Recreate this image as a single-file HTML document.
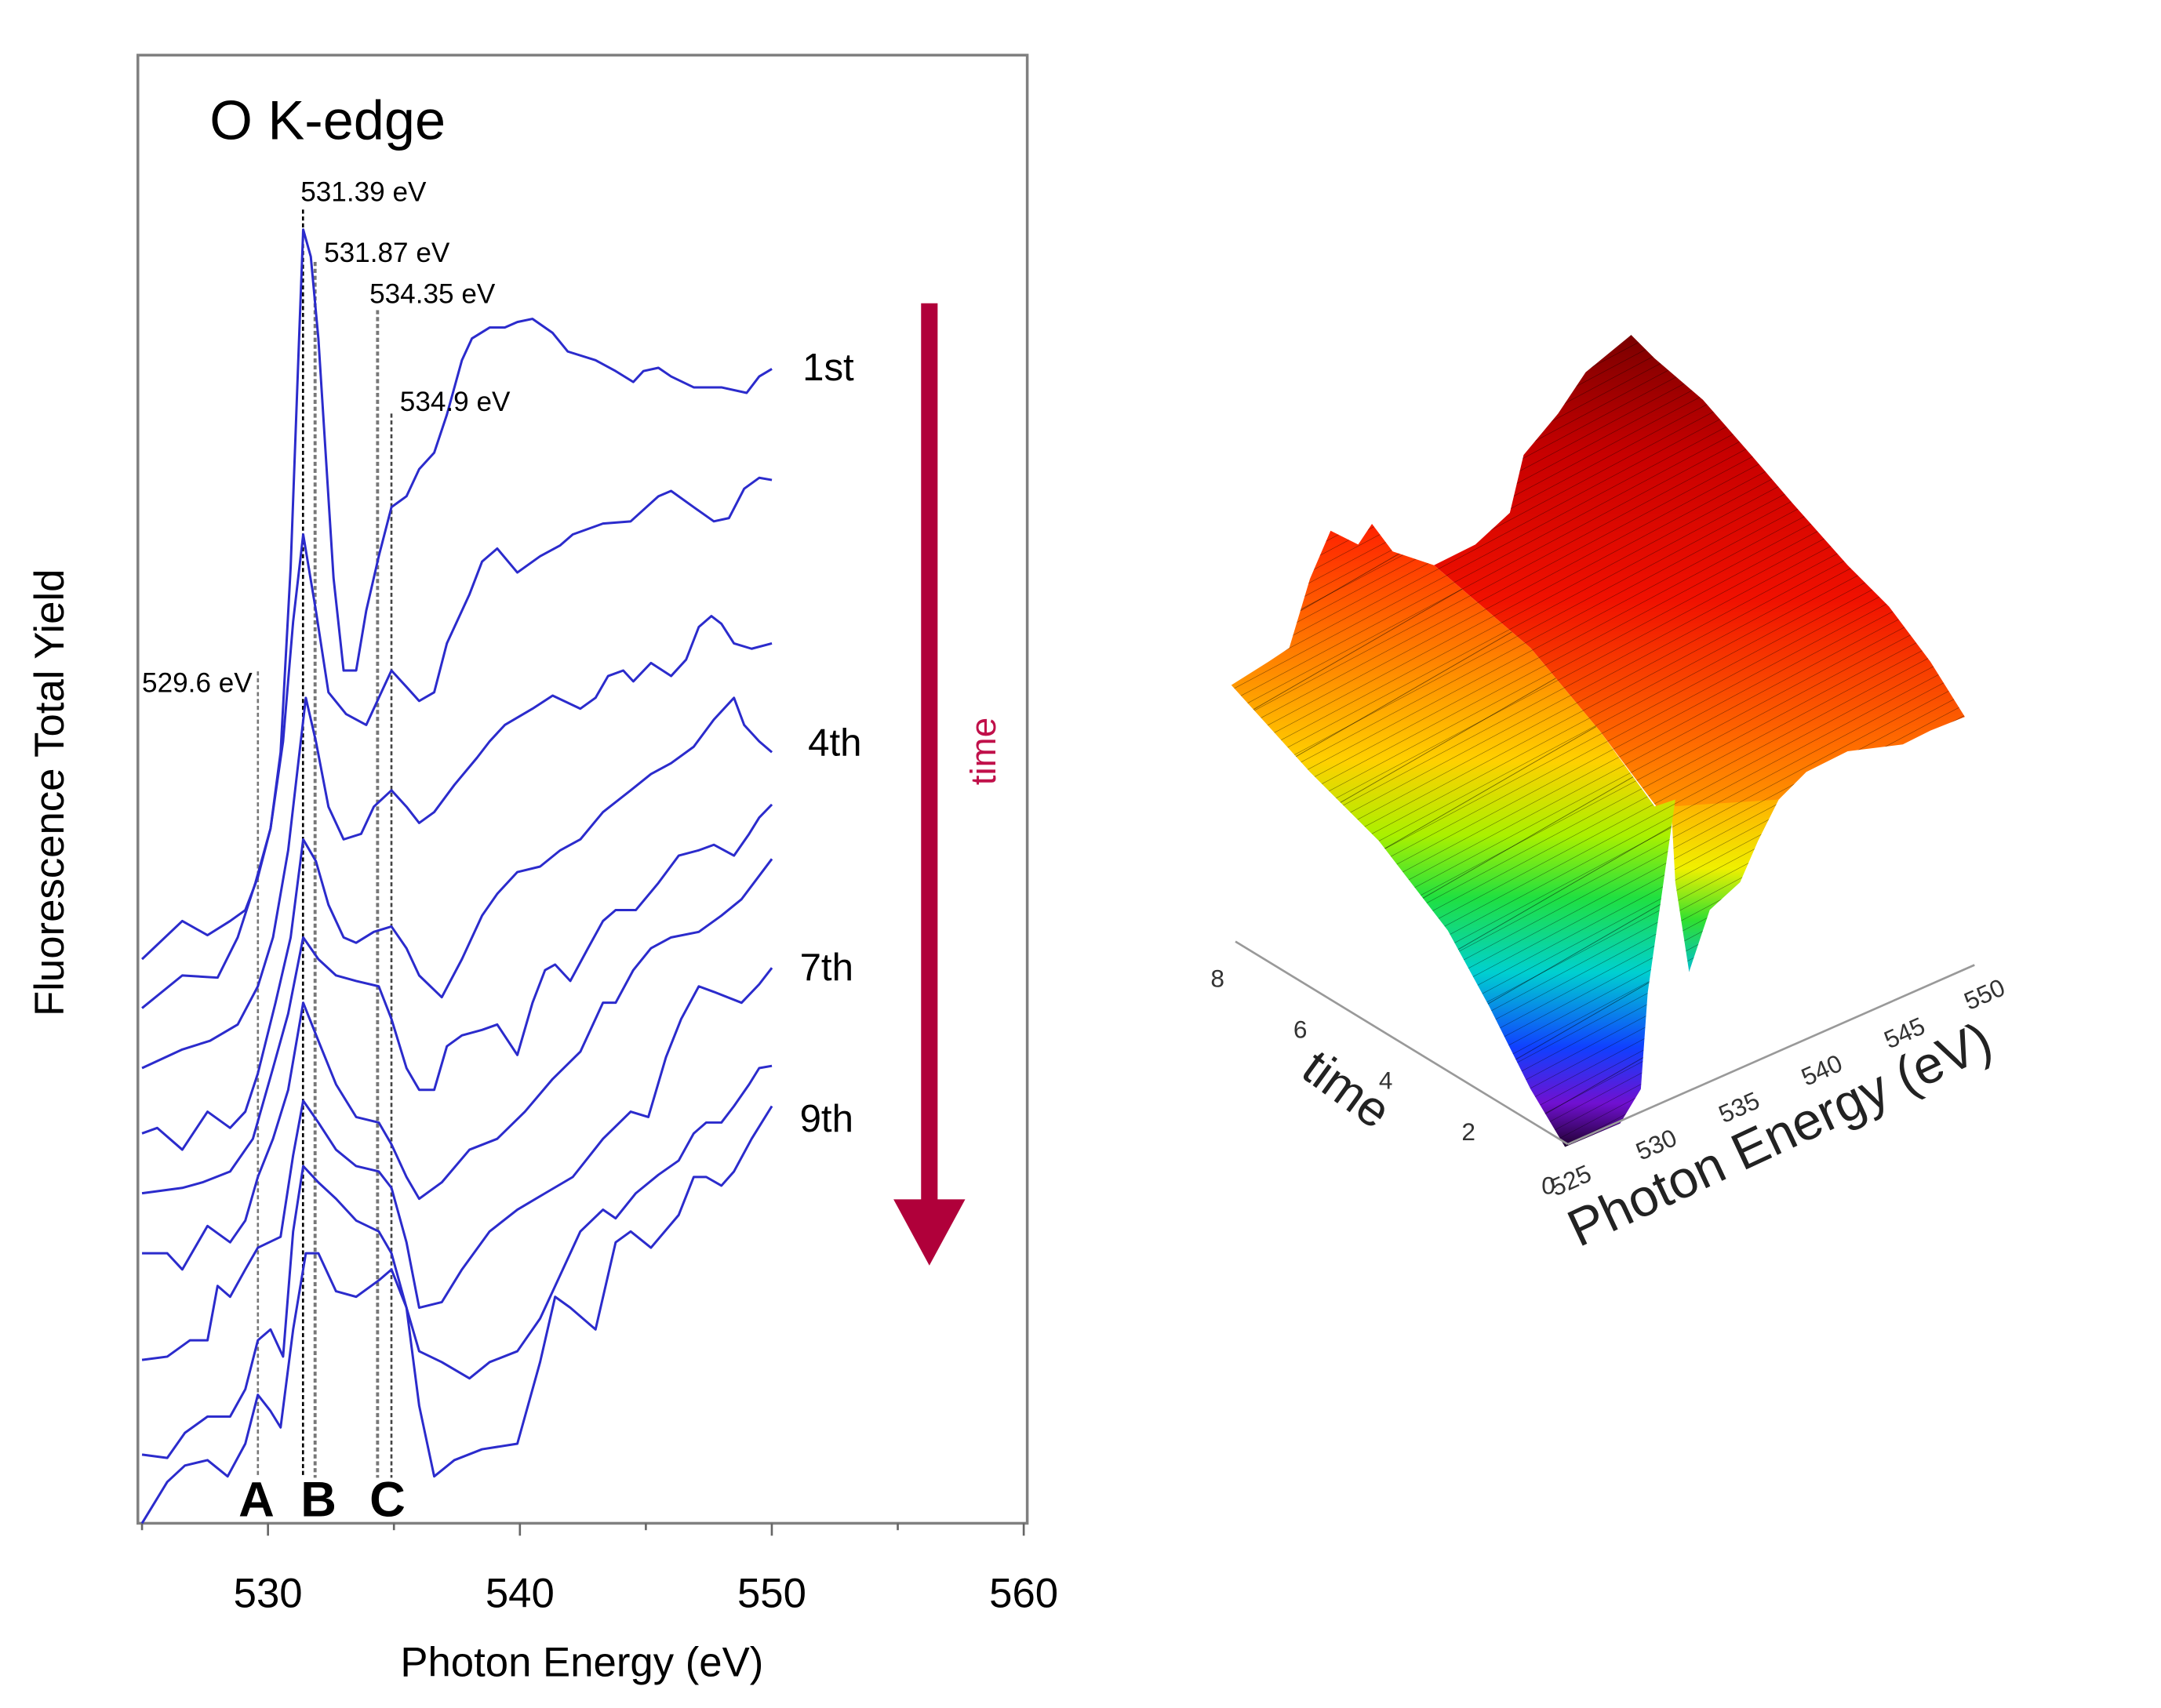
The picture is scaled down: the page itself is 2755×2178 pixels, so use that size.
<!DOCTYPE html>
<html><head><meta charset="utf-8"><title>O K-edge XAS</title>
<style>html,body{margin:0;padding:0;background:#fff;}svg{display:block;}text{font-family:"Liberation Sans",sans-serif;}</style>
</head><body>
<svg id="fig" width="2755" height="2178" viewBox="0 0 1567 1239" preserveAspectRatio="xMinYMin meet" xmlns="http://www.w3.org/2000/svg">
<defs>
<linearGradient id="gBack" x1="0" y1="0" x2="0" y2="1">
<stop offset="0" stop-color="#7a0000"/><stop offset="0.25" stop-color="#c80000"/><stop offset="0.55" stop-color="#f01000"/><stop offset="0.85" stop-color="#ff6a00"/><stop offset="1" stop-color="#ff9a00"/></linearGradient>
<linearGradient id="gFront" x1="0" y1="0" x2="0" y2="1">
<stop offset="0" stop-color="#ff2000"/><stop offset="0.2" stop-color="#ff7a00"/><stop offset="0.38" stop-color="#ffd000"/><stop offset="0.5" stop-color="#aaf000"/><stop offset="0.6" stop-color="#20e040"/><stop offset="0.72" stop-color="#00d0d0"/><stop offset="0.84" stop-color="#1040ff"/><stop offset="0.93" stop-color="#7010d0"/><stop offset="1" stop-color="#200030"/></linearGradient>
<linearGradient id="gDip" x1="0" y1="0" x2="0" y2="1">
<stop offset="0" stop-color="#ffb000"/><stop offset="0.4" stop-color="#f0f000"/><stop offset="0.7" stop-color="#30e030"/><stop offset="1" stop-color="#00c0d0"/></linearGradient>
<pattern id="mesh" width="7" height="7" patternUnits="userSpaceOnUse" patternTransform="rotate(62)"><line x1="0" y1="0" x2="0" y2="7" stroke="#000" stroke-width="0.6" opacity="0.55"/></pattern>
<pattern id="mesh2" width="45" height="45" patternUnits="userSpaceOnUse" patternTransform="rotate(-30)"><line x1="0" y1="0" x2="45" y2="0" stroke="#000" stroke-width="0.8" opacity="0.6"/></pattern>
</defs>

<g id="left-panel">
<rect x="100" y="40" width="645" height="1065" fill="none" stroke="#808080" stroke-width="2"/>
<g id="ticks"></g>
<g id="refs"></g>
<g id="curves"></g>
<text x="152" y="101" font-size="40">O K-edge</text>
<text x="218" y="146" font-size="20">531.39 eV</text>
<text x="235" y="190" font-size="20">531.87 eV</text>
<text x="268" y="220" font-size="20">534.35 eV</text>
<text x="290" y="298" font-size="20">534.9 eV</text>
<text x="103" y="502" font-size="20">529.6 eV</text>
<text x="186" y="1100" font-size="36" font-weight="bold" text-anchor="middle">A</text>
<text x="231" y="1100" font-size="36" font-weight="bold" text-anchor="middle">B</text>
<text x="281" y="1100" font-size="36" font-weight="bold" text-anchor="middle">C</text>
<text x="582" y="276" font-size="28">1st</text>
<text x="586" y="548" font-size="28">4th</text>
<text x="580" y="711" font-size="28">7th</text>
<text x="580" y="821" font-size="28">9th</text>
<g>
<rect x="668" y="220" width="12" height="652" fill="#b0003a"/>
<polygon points="648,870 700,870 674,918" fill="#b0003a"/>
</g>
<text transform="translate(722,545) rotate(-90)" font-size="26" fill="#c0104a" text-anchor="middle">time</text>
<text x="422" y="1216" font-size="30" text-anchor="middle">Photon Energy (eV)</text>
<text transform="translate(46,575) rotate(-90)" font-size="30" text-anchor="middle">Fluorescence Total Yield</text>
</g>

<g id="right-panel">
<g>
<polygon points="1040,410 1070,395 1095,372 1105,330 1130,300 1150,270 1183,243 1200,260 1235,290 1270,330 1300,365 1340,410 1370,440 1400,480 1425,520 1400,530 1380,540 1340,545 1310,560 1290,580 1230,590 1205,590 1160,530 1110,470" fill="url(#gBack)"/>
<polygon points="1040,410 1070,395 1095,372 1105,330 1130,300 1150,270 1183,243 1200,260 1235,290 1270,330 1300,365 1340,410 1370,440 1400,480 1425,520 1400,530 1380,540 1340,545 1310,560 1290,580 1230,590 1205,590 1160,530 1110,470" fill="url(#mesh)"/>
<polygon points="1212,585 1290,580 1275,610 1262,640 1240,660 1225,705 1215,640" fill="url(#gDip)"/>
<polygon points="1212,585 1290,580 1275,610 1262,640 1240,660 1225,705 1215,640" fill="url(#mesh)"/>
<polygon points="893,497 920,480 935,470 950,420 965,385 985,395 995,380 1010,400 1040,410 1110,470 1160,530 1200,585 1215,580 1205,650 1195,720 1190,790 1175,815 1135,832 1110,790 1080,730 1050,675 1000,610 950,560" fill="url(#gFront)"/>
<polygon points="893,497 920,480 935,470 950,420 965,385 985,395 995,380 1010,400 1040,410 1110,470 1160,530 1200,585 1215,580 1205,650 1195,720 1190,790 1175,815 1135,832 1110,790 1080,730 1050,675 1000,610 950,560" fill="url(#mesh)"/>
<polygon points="893,497 920,480 935,470 950,420 965,385 985,395 995,380 1010,400 1040,410 1110,470 1160,530 1200,585 1215,580 1205,650 1195,720 1190,790 1175,815 1135,832 1110,790 1080,730 1050,675 1000,610 950,560" fill="url(#mesh2)"/>
</g>
<line x1="896" y1="683" x2="1137" y2="830" stroke="#999" stroke-width="1.5"/>
<line x1="1137" y1="830" x2="1432" y2="700" stroke="#999" stroke-width="1.5"/>
<g font-size="18" fill="#333">
<text x="878" y="716">8</text><text x="938" y="753">6</text><text x="1000" y="790">4</text><text x="1060" y="827">2</text><text x="1118" y="866">0</text>
</g>
<g font-size="18" fill="#333">
<text transform="translate(1128,868) rotate(-24)">525</text>
<text transform="translate(1190,842) rotate(-24)">530</text>
<text transform="translate(1250,815) rotate(-24)">535</text>
<text transform="translate(1310,788) rotate(-24)">540</text>
<text transform="translate(1370,761) rotate(-24)">545</text>
<text transform="translate(1428,733) rotate(-24)">550</text>
</g>
<text transform="translate(942,780) rotate(36)" font-size="36" fill="#222">time</text>
<text transform="translate(1145,905) rotate(-25)" font-size="38" fill="#222">Photon Energy (eV)</text>
</g>
</svg>

<script>
var E1=[525,526.6,527.6,528.5,529.1,529.6,530.1,530.5,530.9,531.25,531.4,531.7,532.0,532.3,532.6,533.0,533.5,533.9,534.4,534.9,535.5,536.0,536.6,537.1,537.7,538.1,538.8,539.4,539.9,540.5,541.3,541.9,543.0,543.8,544.5,544.9,545.5,546.0,546.9,548.0,549.0,549.5,550];
var I1=[518,553,540,553,563,593,638,708,878,1098,1188,1163,1088,978,868,783,783,838,888,933,943,968,983,1018,1068,1088,1098,1098,1103,1106,1093,1076,1068,1058,1048,1058,1061,1053,1043,1043,1038,1053,1060];
var E2=[525,526.6,528.0,528.8,529.5,530.1,530.6,531.0,531.4,531.9,532.4,533.1,533.9,534.4,534.9,535.5,536.0,536.6,537.1,538.0,538.5,539.1,539.9,540.8,541.6,542.1,543.3,544.4,545.5,546.0,546.9,547.7,548.3,548.9,549.5,550];
var I2=[473,503,501,538,588,638,718,828,908,838,763,743,733,758,783,768,755,763,808,853,883,895,873,888,898,908,918,920,943,948,933,920,923,950,960,958];
var E3=[525,526.6,527.7,528.8,529.6,530.2,530.8,531.2,531.5,531.9,532.4,533.0,533.7,534.2,534.9,535.5,536.0,536.6,537.4,538.3,538.8,539.4,540.5,541.3,542.4,543.0,543.5,544.1,544.5,545.2,546.0,546.6,547.1,547.6,548.0,548.5,549.2,550];
var I3=[418,435,443,458,493,538,618,698,758,718,658,628,633,658,673,658,643,653,678,703,718,733,748,760,748,758,778,783,773,790,778,793,823,833,826,808,803,808];
var E4=[525,525.6,526.6,527.6,528.5,529.1,529.6,530.3,530.9,531.4,531.9,532.4,533.0,533.5,534.2,534.9,535.5,536.0,536.9,537.7,538.5,539.1,539.9,540.8,541.6,542.4,543.3,544.4,545.2,546.0,546.9,547.7,548.5,548.9,549.5,550];
var I4=[358,363,343,378,363,378,413,478,538,628,608,568,538,533,543,548,528,503,483,518,558,578,598,603,618,628,653,673,688,698,713,738,758,733,718,708];
var E5=[525,526.6,527.4,528.5,529.4,530.2,530.8,531.4,532.0,532.7,533.5,534.4,534.9,535.5,536.0,536.6,537.1,537.7,538.5,539.1,539.9,540.5,541.0,541.4,542.0,542.7,543.3,543.8,544.6,545.5,546.3,547.1,547.7,548.5,549.1,549.5,550];
var I5=[303,308,313,323,353,418,468,538,518,503,498,493,463,418,398,398,438,448,453,458,430,478,508,513,498,528,553,563,563,588,613,618,623,613,633,648,660];
var E6=[525,526.0,526.6,527.6,528.5,529.1,529.6,530.2,530.8,531.4,532.0,532.7,533.5,534.4,534.9,535.5,536.0,536.9,538.0,539.1,540.2,541.3,542.4,543.3,543.8,544.5,545.2,546.0,547.1,548.0,548.8,550];
var I6=[248,248,233,273,258,278,318,353,398,478,443,403,373,368,348,318,298,313,343,353,378,408,433,478,478,508,528,538,543,558,573,610];
var E7=[525,526.0,526.9,527.6,528.0,528.5,529.1,529.6,530.5,531.0,531.4,532.0,532.7,533.5,534.4,534.9,535.5,536.0,536.9,537.7,538.8,539.9,541.0,542.1,543.3,544.4,545.1,545.8,546.4,547.1,547.7,548.8,549.5,550];
var I7=[150,153,168,168,218,208,233,253,263,338,388,368,343,328,323,308,258,198,203,233,268,288,303,318,353,378,373,428,463,493,488,478,495,510];
var E8=[525,526.0,526.7,527.6,528.5,529.1,529.6,530.1,530.6,531.0,531.4,532.0,532.7,533.5,534.4,534.9,535.5,536.0,536.9,538.0,538.8,539.9,540.8,541.6,542.4,543.3,543.8,544.6,545.5,546.3,546.9,547.4,548.0,548.5,549.1,549.5,550];
var I8=[63,60,83,98,98,123,168,178,153,268,328,313,298,278,268,248,198,158,148,133,148,158,188,228,268,288,280,303,320,333,358,368,368,383,403,418,420];
var E9=[525,526.0,526.7,527.6,528.4,529.1,529.6,530.1,530.5,531.0,531.5,532.0,532.7,533.5,534.4,534.9,535.5,536.0,536.6,537.4,538.5,539.9,540.8,541.4,542.0,543.0,543.8,544.4,545.2,546.3,546.9,547.4,548.0,548.5,549.2,550];
var I9=[0,38,53,58,43,73,118,103,88,178,248,248,213,208,223,233,198,108,43,58,68,73,148,208,198,178,258,268,253,283,318,318,310,323,353,383];
var tickValues=[525,530,535,540,545,550,555,560];
var tickLabels=["530","540","550","560"];
var refEnergies=[529.6,531.39,531.87,534.35,534.9];
var refTops=[487,152,190,225,300];

var NS="http://www.w3.org/2000/svg";
function xS(e){return 103+(e-525)*18.27;}
function yS(v){return 1105-v*0.79;}
var seriesE=[E1,E2,E3,E4,E5,E6,E7,E8,E9];
var seriesI=[I1,I2,I3,I4,I5,I6,I7,I8,I9];
var cg=document.getElementById('curves');
for(var s=0;s<seriesE.length;s++){
  var pts=[];
  for(var k=0;k<seriesE[s].length;k++){pts.push(xS(seriesE[s][k]).toFixed(1)+','+yS(seriesI[s][k]).toFixed(1));}
  var pl=document.createElementNS(NS,'polyline');
  pl.setAttribute('points',pts.join(' '));
  pl.setAttribute('fill','none');pl.setAttribute('stroke','#2b2bcc');pl.setAttribute('stroke-width','1.7');
  pl.setAttribute('stroke-linejoin','round');
  
  
  cg.appendChild(pl);
}
var rg=document.getElementById('refs');
for(var r=0;r<refEnergies.length;r++){
  var ln=document.createElementNS(NS,'line');
  var x=xS(refEnergies[r]);
  ln.setAttribute('x1',x);ln.setAttribute('x2',x);ln.setAttribute('y1',refTops[r]);ln.setAttribute('y2',1072);
  var dark=(r===1||r===4);
  ln.setAttribute('stroke',r===1?'#000':(dark?'#444':'#777'));
  ln.setAttribute('stroke-width',(r===2||r===3)?'2.2':'1.5');
  ln.setAttribute('stroke-dasharray','3,2');
  
  
  rg.appendChild(ln);
}
var tg=document.getElementById('ticks');
for(var t=0;t<tickValues.length;t++){
  var tl=document.createElementNS(NS,'line');
  var tx=xS(tickValues[t]);
  tl.setAttribute('x1',tx);tl.setAttribute('x2',tx);tl.setAttribute('y1',1105);tl.setAttribute('y2',tickValues[t]%10===0?1114:1110);
  tl.setAttribute('stroke','#666');tl.setAttribute('stroke-width','1.5');
  
  
  tg.appendChild(tl);
}
for(var q=0;q<tickLabels.length;q++){
  var tt=document.createElementNS(NS,'text');
  tt.setAttribute('x',xS(parseFloat(tickLabels[q])));tt.setAttribute('y',1166);
  tt.setAttribute('font-size','30');tt.setAttribute('text-anchor','middle');
  tt.textContent=tickLabels[q];
  
  
  tg.appendChild(tt);
}
</script>
</body></html>
